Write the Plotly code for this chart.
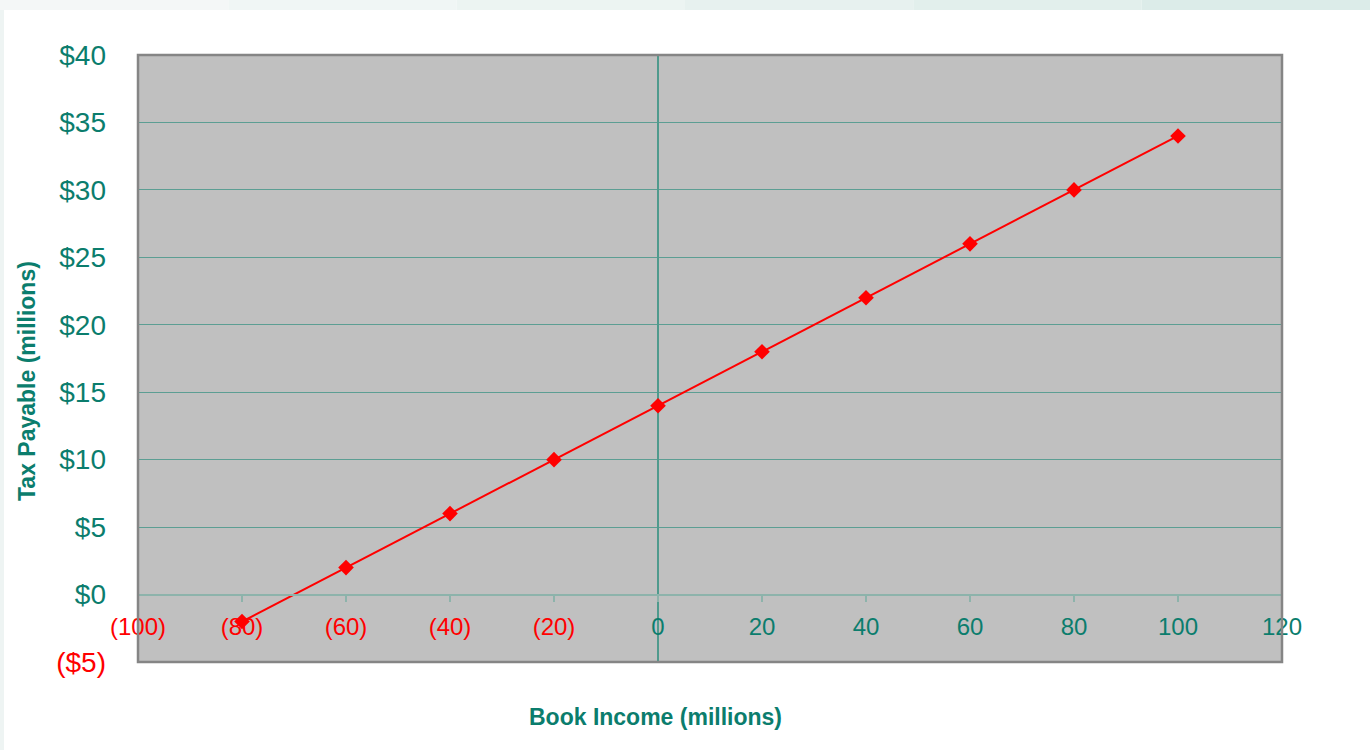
import plotly.graph_objects as go

# book income vs tax payable (millions)
book_income = [-80, -60, -40, -20, 0, 20, 40, 60, 80, 100]
tax_payable = [-2, 2, 6, 10, 14, 18, 22, 26, 30, 34]

x_ticks = [-100, -80, -60, -40, -20, 0, 20, 40, 60, 80, 100, 120]
x_labels = ["(100)", "(80)", "(60)", "(40)", "(20)", "0", "20", "40", "60", "80", "100", "120"]
y_ticks = [-5, 0, 5, 10, 15, 20, 25, 30, 35, 40]
y_labels = ["($5)", "$0", "$5", "$10", "$15", "$20", "$25", "$30", "$35", "$40"]

TEAL = "#0b7d6d"
RED = "#ff0000"


def colour_label(text, val):
    c = RED if val < 0 else TEAL
    return f"<span style='color:{c}'>{text}</span>"


fig = go.Figure()
fig.add_trace(go.Scatter(
    x=book_income, y=tax_payable, mode="lines+markers",
    line=dict(color=RED, width=2),
    marker=dict(symbol="diamond", size=12, color=RED),
    showlegend=False, hoverinfo="skip",
))

# page background: white panel with a pale strip along top and left
W, H = 1370, 750
L, R, T, B = 138, 88, 55, 88
pw, ph = W - L - R, H - T - B
def px_x(p):
    return (p - L) / pw
def px_y(p):
    return (H - B - p) / ph

shapes = []
band = ["#f4f7f7", "#f0f6f5", "#ecf4f2", "#e7f1ef", "#e2efec", "#dcece9"]
n = len(band)
for i, c in enumerate(band):
    shapes.append(dict(type="rect", xref="paper", yref="paper",
                       x0=px_x(W * i / n), x1=px_x(W * (i + 1) / n),
                       y0=px_y(10), y1=px_y(0), fillcolor=c, line_width=0, layer="above"))
shapes.append(dict(type="rect", xref="paper", yref="paper",
                   x0=px_x(0), x1=px_x(4), y0=px_y(H), y1=px_y(10),
                   fillcolor="#eef4f3", line_width=0, layer="above"))
# plot border
shapes.append(dict(type="rect", xref="paper", yref="paper", x0=0, x1=1, y0=0, y1=1,
                   line=dict(color="#858585", width=2.5), layer="above"))

fig.update_layout(
    width=W, height=H,
    margin=dict(l=L, r=R, t=T, b=B),
    paper_bgcolor="white",
    plot_bgcolor="#c0c0c0",
    font=dict(family="Liberation Sans, Arial, sans-serif", color=TEAL),
    shapes=shapes,
    xaxis=dict(
        range=[-100, 120], tickvals=x_ticks,
        ticktext=[colour_label(t, v) for t, v in zip(x_labels, x_ticks)],
        tickfont=dict(size=24), anchor="free", position=5 / 45,
        showline=True, linecolor="#8db3ab", linewidth=2,
        ticks="outside", ticklen=6, tickcolor="#8db3ab", tickwidth=1.5,
        ticklabelstandoff=5,
        showgrid=False, zeroline=True, zerolinecolor="#4f9a8d", zerolinewidth=1.5,
    ),
    yaxis=dict(
        range=[-5, 40], tickvals=y_ticks,
        ticktext=[colour_label(t, v) for t, v in zip(y_labels, y_ticks)],
        tickfont=dict(size=28), ticklabelstandoff=31,
        showline=False, zeroline=False, ticks="",
        showgrid=True, gridcolor="#5c9e93", gridwidth=1,
    ),
    annotations=[
        dict(text="<b>Book Income (millions)</b>", xref="paper", yref="paper",
             x=px_x(655), y=px_y(717), xanchor="center", yanchor="middle",
             showarrow=False, font=dict(size=23, color=TEAL)),
        dict(text="<b>Tax Payable (millions)</b>", xref="paper", yref="paper",
             x=px_x(27), y=px_y(381), xanchor="center", yanchor="middle",
             showarrow=False, textangle=-90, font=dict(size=23, color=TEAL)),
    ],
)

# drop the default body margin so the figure sits at the page corner
fig.write_html("out.html", config={"displayModeBar": False},
               post_script="document.body.style.margin='0';")
